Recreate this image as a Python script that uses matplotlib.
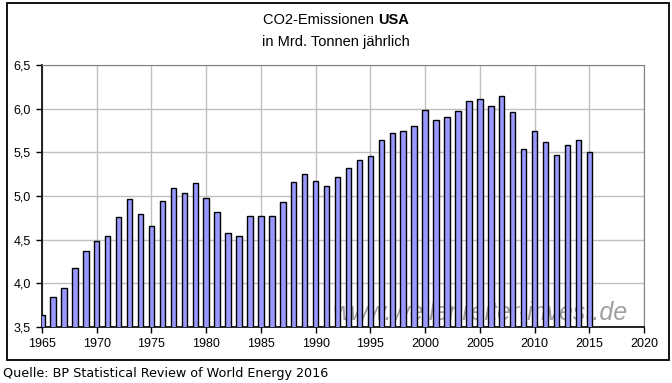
import matplotlib
matplotlib.use("Agg")
import matplotlib.pyplot as plt
from matplotlib.patches import Rectangle

# === DATA ===
years = list(range(1965, 2016))
emissions = [3.64, 3.84, 3.95, 4.17, 4.37, 4.48, 4.54, 4.76, 4.96, 4.79,
             4.66, 4.94, 5.09, 5.03, 5.15, 4.98, 4.82, 4.58, 4.54, 4.77,
             4.77, 4.77, 4.93, 5.16, 5.25, 5.17, 5.12, 5.22, 5.32, 5.41,
             5.46, 5.64, 5.72, 5.75, 5.80, 5.99, 5.87, 5.90, 5.97, 6.09,
             6.11, 6.03, 6.14, 5.96, 5.54, 5.75, 5.62, 5.47, 5.58, 5.64,
             5.50]
x_ticks = list(range(1965, 2021, 5))
y_ticks = [3.5, 4.0, 4.5, 5.0, 5.5, 6.0, 6.5]
y_labels = ["3,5", "4,0", "4,5", "5,0", "5,5", "6,0", "6,5"]

# === STYLE ===
W, H, DPI = 672, 383, 100
FONT = "Liberation Sans"
BAR_COLOR = "#9999ff"
GRID_COLOR = "#c0c0c0"

fig = plt.figure(figsize=(W / DPI, H / DPI), dpi=DPI)
fig.patch.set_facecolor("white")

# outer frame around the chart
fig.patches.append(Rectangle((7 / W, 1 - 360 / H), 662 / W, 357 / H,
                             transform=fig.transFigure, fill=False,
                             edgecolor="black", linewidth=1.3))

ax = fig.add_axes([42 / W, 1 - 327 / H, 602 / W, 262 / H])
ax.bar(years, emissions, width=0.5, color=BAR_COLOR, edgecolor="black",
       linewidth=1.0, zorder=3)

ax.set_xlim(1965, 2020)
ax.set_ylim(3.5, 6.5)
ax.set_xticks(x_ticks)
ax.set_xticklabels([str(t) for t in x_ticks], fontfamily=FONT, fontsize=9)
ax.set_yticks(y_ticks)
ax.set_yticklabels(y_labels, fontfamily=FONT, fontsize=9)
ax.tick_params(axis="both", direction="out", length=4, width=1, pad=4)

ax.grid(True, color=GRID_COLOR, linewidth=1, zorder=0)
ax.set_axisbelow(True)
for side in ("top", "right"):
    ax.spines[side].set_color("#808080")
for side in ("left", "bottom"):
    ax.spines[side].set_color("black")
    ax.spines[side].set_linewidth(1.2)

# watermark (behind bars)
ax.text((628 - 42) / 602, 0.055, "www.wellenreiter-invest.de", transform=ax.transAxes,
        ha="right", va="center", fontsize=18, style="italic",
        color="#a0a0a0", fontfamily=FONT, zorder=2)

# title: normal part + bold "USA"
fig.canvas.draw()
renderer = fig.canvas.get_renderer()
t1 = fig.text(0, 1 - 20 / H, "CO2-Emissionen ", ha="left", va="center",
              fontfamily=FONT, fontsize=10.5)
t2 = fig.text(0, 1 - 20 / H, "USA", ha="left", va="center",
              fontfamily=FONT, fontsize=10.5, fontweight="bold")
w1 = t1.get_window_extent(renderer).width
w2 = t2.get_window_extent(renderer).width
x0 = (W - (w1 + w2)) / 2
t1.set_x(x0 / W)
t2.set_x((x0 + w1) / W)
fig.text(0.5, 1 - 42 / H, "in Mrd. Tonnen jährlich", ha="center", va="center",
         fontfamily=FONT, fontsize=10.5)

# source
fig.text(3 / W, 1 - 373 / H, "Quelle: BP Statistical Review of World Energy 2016",
         ha="left", va="center", fontfamily="DejaVu Sans", fontsize=9.2)

fig.savefig("out.png", dpi=DPI)
